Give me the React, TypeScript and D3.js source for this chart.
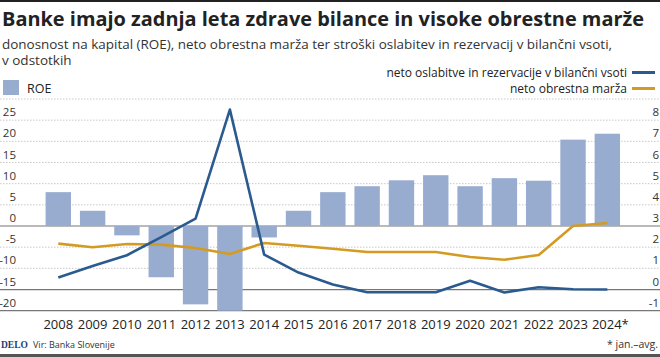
import React from "react";
import * as d3 from "d3";

const years = ["2008","2009","2010","2011","2012","2013","2014","2015","2016","2017","2018","2019","2020","2021","2022","2023","2024*"];
const roe = [8.0, 3.6, -2.2, -12.1, -18.5, -20, -2.7, 3.6, 8.0, 9.4, 10.8, 12.0, 9.4, 11.3, 10.7, 20.4, 21.8];
const impairments = [0.57, 1.11, 1.62, 2.48, 3.35, 8.5, 1.65, 0.8, 0.24, -0.13, -0.13, -0.13, 0.41, -0.14, 0.11, 0.01, 0.0];
const margin = [2.17, 2.0, 2.15, 2.12, 1.96, 1.68, 2.2, 2.07, 1.93, 1.77, 1.77, 1.77, 1.54, 1.41, 1.63, 3.0, 3.14];
const leftTicks = [-20, -15, -10, -5, 0, 5, 10, 15, 20, 25, 30];
const leftLabels = [-20, -15, -10, -5, 0, 5, 10, 15, 20, 25];
const rightLabels = [-1, 0, 1, 2, 3, 4, 5, 6, 7, 8];

const W = 660, H = 357;
const BLUE = "#2b5b8e";
const ORANGE = "#d49b22";
const BAR = "#98acd0";
const FONT = "'Open Sans', sans-serif";

export default function App() {
  const x = d3.scaleBand<string>().domain(years).range([41.15, 624.5]).paddingInner(0.26).paddingOuter(0.13);
  const yL = d3.scaleLinear().domain([-20, 30]).range([310.7, 99]);
  const yR = d3.scaleLinear().domain([-1, 9]).range([310.7, 99]);
  const cx = (d: string) => (x(d) as number) + x.bandwidth() / 2;
  const lineR = d3.line<number>().x((_, i) => cx(years[i])).y((v) => yR(v));
  const solid = new Set([0, -15, -20]);

  return (
    <svg width={W} height={H} style={{ position: "absolute", left: 0, top: 0, background: "#fff" }} fontFamily={FONT}>
      <rect x={0} y={0} width={W} height={2} fill="#222" />
      <text x={2} y={26} fontSize={19.5} fontWeight={700} fill="#222" textLength={642} lengthAdjust="spacingAndGlyphs">Banke imajo zadnja leta zdrave bilance in visoke obrestne marže</text>
      <text x={2} y={49} fontSize={13.5} fill="#333" textLength={610} lengthAdjust="spacingAndGlyphs">donosnost na kapital (ROE), neto obrestna marža ter stroški oslabitev in rezervacij v bilančni vsoti,</text>
      <text x={2} y={65} fontSize={13.5} fill="#333">v odstotkih</text>

      {/* legend */}
      <text x={627} y={77} fontSize={12} textAnchor="end" fill="#222">neto oslabitve in rezervacije v bilančni vsoti</text>
      <line x1={632} x2={655} y1={72.5} y2={72.5} stroke={BLUE} strokeWidth={3} />
      <text x={627} y={93} fontSize={12} textAnchor="end" fill="#222">neto obrestna marža</text>
      <line x1={632} x2={655} y1={88.5} y2={88.5} stroke={ORANGE} strokeWidth={3} />
      <rect x={3} y={80} width={16} height={15} fill={BAR} />
      <text x={27} y={93} fontSize={12.5} fill="#222">ROE</text>

      {/* gridlines */}
      {leftTicks.map((t) => (
        <line key={t} x1={0} x2={W} y1={yL(t)} y2={yL(t)}
          stroke={solid.has(t) ? "#777" : "#bbb"}
          strokeWidth={solid.has(t) ? 1.2 : 0.8}
          strokeDasharray={solid.has(t) ? undefined : "1.5,1.5"} />
      ))}

      {/* bars */}
      {roe.map((v, i) => (
        <rect key={years[i]} x={x(years[i])} width={x.bandwidth()}
          y={yL(Math.max(0, v))} height={Math.abs(yL(v) - yL(0))} fill={BAR} />
      ))}

      {/* lines */}
      <path d={lineR(margin) || ""} fill="none" stroke={ORANGE} strokeWidth={2.6} strokeLinejoin="round" />
      <path d={lineR(impairments) || ""} fill="none" stroke={BLUE} strokeWidth={2.6} strokeLinejoin="round" />

      {/* axis labels */}
      {leftLabels.map((t) => (
        <text key={t} x={16} y={yL(t) - 4} fontSize={11.5} textAnchor="end" fill="#333">{t}</text>
      ))}
      {rightLabels.map((t) => (
        <text key={t} x={659} y={yR(t) - 4} fontSize={11.5} textAnchor="end" fill="#333">{t}</text>
      ))}
      {years.map((y) => (
        <text key={y} x={y.endsWith("*") ? cx(y) + 3 : cx(y)} y={329} fontSize={13} textAnchor="middle" fill="#222">{y}</text>
      ))}

      {/* footer */}
      <text x={1} y={348} fontSize={9.5} fontWeight={700} fontFamily="'Liberation Serif', serif" fill="#1d3c6e">DELO</text>
      <text x={33} y={348} fontSize={9} fill="#333" fontFamily="'Liberation Sans Narrow', 'Open Sans', sans-serif">Vir: Banka Slovenije</text>
      <text x={658} y={348} fontSize={10.5} textAnchor="end" fill="#333">* jan.–avg.</text>
      <rect x={0} y={354} width={W} height={3} fill="#555" />
    </svg>
  );
}
